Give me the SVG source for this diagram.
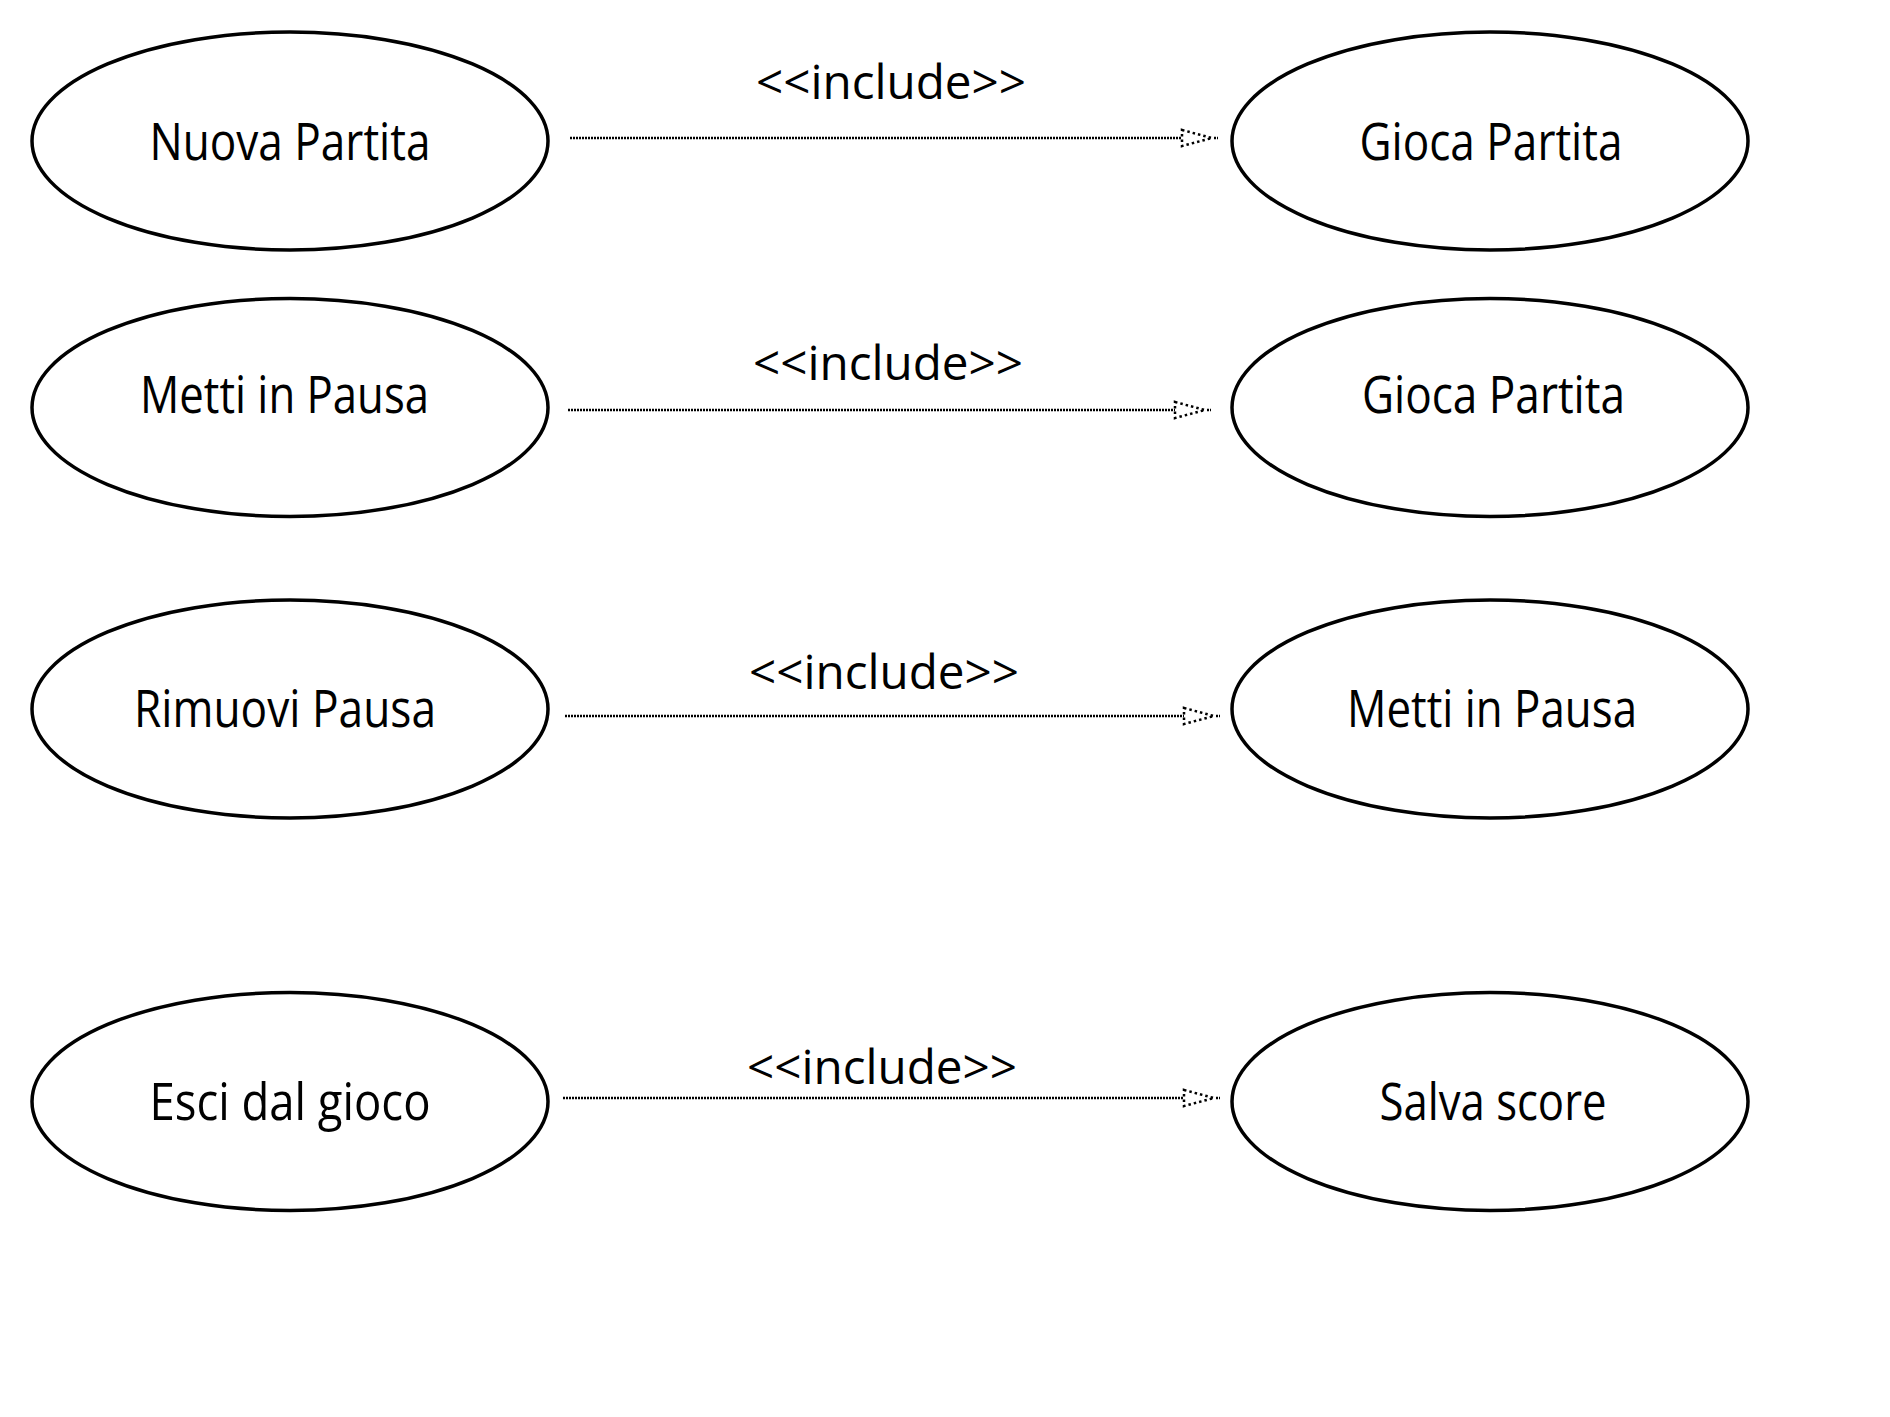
<svg xmlns="http://www.w3.org/2000/svg" width="1890" height="1417" viewBox="0 0 1890 1417">
<style>
.uc{fill:#fff;stroke:#000;stroke-width:3.5}
.lbl{font-family:"Open Sans","Noto Sans",sans-serif;font-size:51px;fill:#000;text-anchor:middle}
.inc{font-family:"Open Sans","Noto Sans",sans-serif;font-size:48px;fill:#000;text-anchor:middle}
.dep{fill:none;stroke:#000;stroke-width:2.5;stroke-dasharray:2 1}
.head{fill:none;stroke:#000;stroke-width:2.5;stroke-dasharray:2.5 3}
</style>
<rect width="1890" height="1417" fill="#fff"/>
<g id="connectors">
<g id="c1"><line class="dep" x1="570" y1="138" x2="1182" y2="138"/><polygon class="head" points="1182,130 1212,138 1182,146"/><line class="dep" x1="1214" y1="138" x2="1218" y2="138"/><text class="inc" x="891" y="99" textLength="270" lengthAdjust="spacingAndGlyphs">&lt;&lt;include&gt;&gt;</text></g>
<g id="c2"><line class="dep" x1="568" y1="410" x2="1175" y2="410"/><polygon class="head" points="1175,402 1205,410 1175,418"/><line class="dep" x1="1207" y1="410" x2="1211" y2="410"/><text class="inc" x="888" y="380" textLength="270" lengthAdjust="spacingAndGlyphs">&lt;&lt;include&gt;&gt;</text></g>
<g id="c3"><line class="dep" x1="565" y1="716" x2="1184" y2="716"/><polygon class="head" points="1184,708 1214,716 1184,724"/><line class="dep" x1="1216" y1="716" x2="1220" y2="716"/><text class="inc" x="884" y="689" textLength="270" lengthAdjust="spacingAndGlyphs">&lt;&lt;include&gt;&gt;</text></g>
<g id="c4"><line class="dep" x1="563" y1="1098" x2="1184" y2="1098"/><polygon class="head" points="1184,1090 1214,1098 1184,1106"/><line class="dep" x1="1216" y1="1098" x2="1220" y2="1098"/><text class="inc" x="882" y="1084" textLength="270" lengthAdjust="spacingAndGlyphs">&lt;&lt;include&gt;&gt;</text></g>
</g>
<g id="n1"><ellipse class="uc" cx="290" cy="141" rx="258" ry="109"/><text class="lbl" x="290" y="160" textLength="281" lengthAdjust="spacingAndGlyphs">Nuova Partita</text></g>
<g id="n2"><ellipse class="uc" cx="1490" cy="141" rx="258" ry="109"/><text class="lbl" x="1491" y="160" textLength="263" lengthAdjust="spacingAndGlyphs">Gioca Partita</text></g>
<g id="n3"><ellipse class="uc" cx="290" cy="407.5" rx="258" ry="109"/><text class="lbl" x="284.5" y="413" textLength="289" lengthAdjust="spacingAndGlyphs">Metti in Pausa</text></g>
<g id="n4"><ellipse class="uc" cx="1490" cy="407.5" rx="258" ry="109"/><text class="lbl" x="1493.5" y="413" textLength="263" lengthAdjust="spacingAndGlyphs">Gioca Partita</text></g>
<g id="n5"><ellipse class="uc" cx="290" cy="709" rx="258" ry="109"/><text class="lbl" x="285" y="727" textLength="302" lengthAdjust="spacingAndGlyphs">Rimuovi Pausa</text></g>
<g id="n6"><ellipse class="uc" cx="1490" cy="709" rx="258" ry="109"/><text class="lbl" x="1492" y="727" textLength="290" lengthAdjust="spacingAndGlyphs">Metti in Pausa</text></g>
<g id="n7"><ellipse class="uc" cx="290" cy="1101.5" rx="258" ry="109"/><text class="lbl" x="290" y="1120" textLength="281" lengthAdjust="spacingAndGlyphs">Esci dal gioco</text></g>
<g id="n8"><ellipse class="uc" cx="1490" cy="1101.5" rx="258" ry="109"/><text class="lbl" x="1493" y="1120" textLength="227" lengthAdjust="spacingAndGlyphs">Salva score</text></g>
</svg>
